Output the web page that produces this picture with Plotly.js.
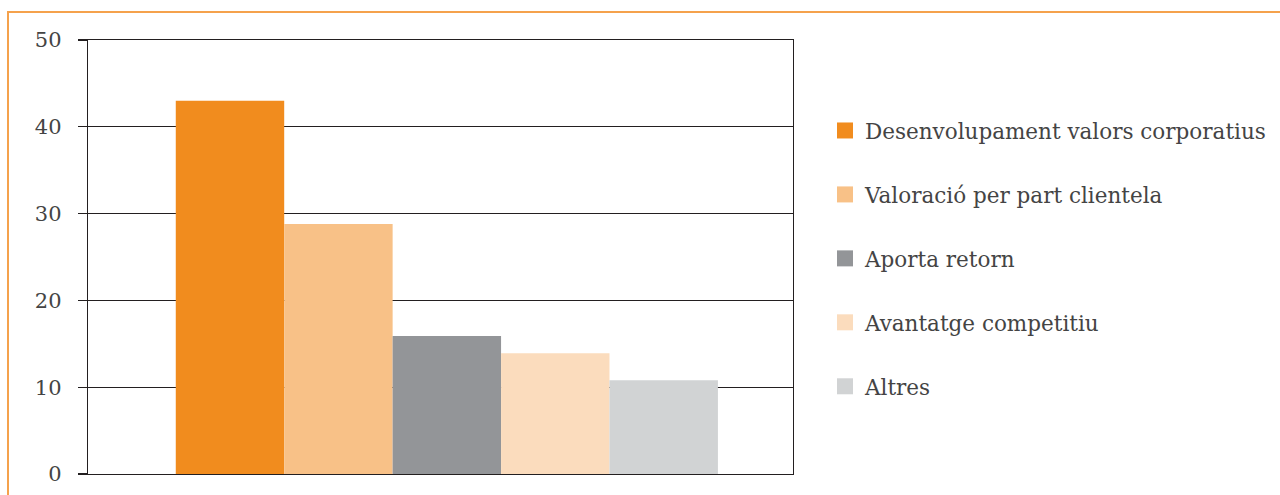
<!DOCTYPE html>
<html>
<head>
<meta charset="utf-8">
<script src="https://cdn.plot.ly/plotly-3.0.1.min.js"></script>
<style>html,body{margin:0;padding:0;background:#fff;}#chart{width:1280px;height:495px;}</style>
</head>
<body>
<div id="chart"></div>
<script>
const categories = ['Desenvolupament valors corporatius', 'Valoració per part clientela', 'Aporta retorn', 'Avantatge competitiu', 'Altres'];
const values = [43, 28.8, 15.9, 13.9, 10.8];
const colors = ['#f18c1e', '#f8c187', '#939598', '#fbdcbd', '#d1d3d4'];
const yTicks = [0, 10, 20, 30, 40, 50];
const group = ['Total'];

const W = 1280, H = 495;
const L = 88, R = 793, T = 40, B = 474;
const px = v => (v - L) / (R - L);
const py = v => (B - v) / (B - T);

const traces = [];
categories.forEach((name, i) => {
  traces.push({
    type: 'bar', name: name, x: group, y: [values[i]],
    marker: {color: colors[i], line: {width: 0}},
    showlegend: false, hoverinfo: 'skip'
  });
});
categories.forEach((name, i) => {
  traces.push({
    type: 'scatter', mode: 'markers', name: name, x: [null], y: [null],
    legendgroup: 'g' + i,
    marker: {symbol: 'square', size: 16, color: colors[i], line: {width: 0}},
    showlegend: true, hoverinfo: 'skip'
  });
});

const frameColor = '#f5a24c';
const layout = {
  width: W, height: H,
  margin: {l: L, r: W - R, t: T, b: H - B, pad: 0},
  paper_bgcolor: '#ffffff', plot_bgcolor: '#ffffff',
  font: {family: 'DejaVu Serif, serif', color: '#444444', size: 20},
  barmode: 'group', bargap: 0.231, bargroupgap: 0,
  showlegend: true,
  xaxis: {
    type: 'category', range: [-0.509, 0.491], showticklabels: false, ticks: '',
    showgrid: false, zeroline: false, showline: true, linecolor: '#231f20', linewidth: 1.4,
    mirror: true, fixedrange: true
  },
  yaxis: {
    range: [0, 50], tickvals: yTicks, ticktext: yTicks.map(String),
    ticks: 'outside', ticklen: 9, tickcolor: '#231f20', tickwidth: 1.2,
    ticklabelstandoff: 12,
    tickfont: {family: 'DejaVu Serif, serif', size: 21, color: '#444444'},
    showgrid: true, gridcolor: '#231f20', gridwidth: 1.2,
    zeroline: false, showline: true, linecolor: '#231f20', linewidth: 1.2, mirror: true,
    fixedrange: true
  },
  legend: {
    xref: 'container', yref: 'container',
    x: 825 / W, y: 1 - 110 / H, xanchor: 'left', yanchor: 'top',
    orientation: 'v', traceorder: 'grouped', tracegroupgap: 33, maxheight: 1,
    font: {family: 'DejaVu Serif, serif', size: 21.5, color: '#444444'},
    bgcolor: 'rgba(0,0,0,0)', borderwidth: 0, itemsizing: 'trace'
  },
  shapes: [
    {type: 'line', xref: 'paper', yref: 'paper', x0: px(7), x1: px(1282), y0: py(12), y1: py(12),
     line: {color: frameColor, width: 2}},
    {type: 'line', xref: 'paper', yref: 'paper', x0: px(8), x1: px(8), y0: py(12), y1: py(497),
     line: {color: frameColor, width: 2}}
  ]
};

Plotly.newPlot('chart', traces, layout, {displayModeBar: false, staticPlot: true});
</script>
</body>
</html>
